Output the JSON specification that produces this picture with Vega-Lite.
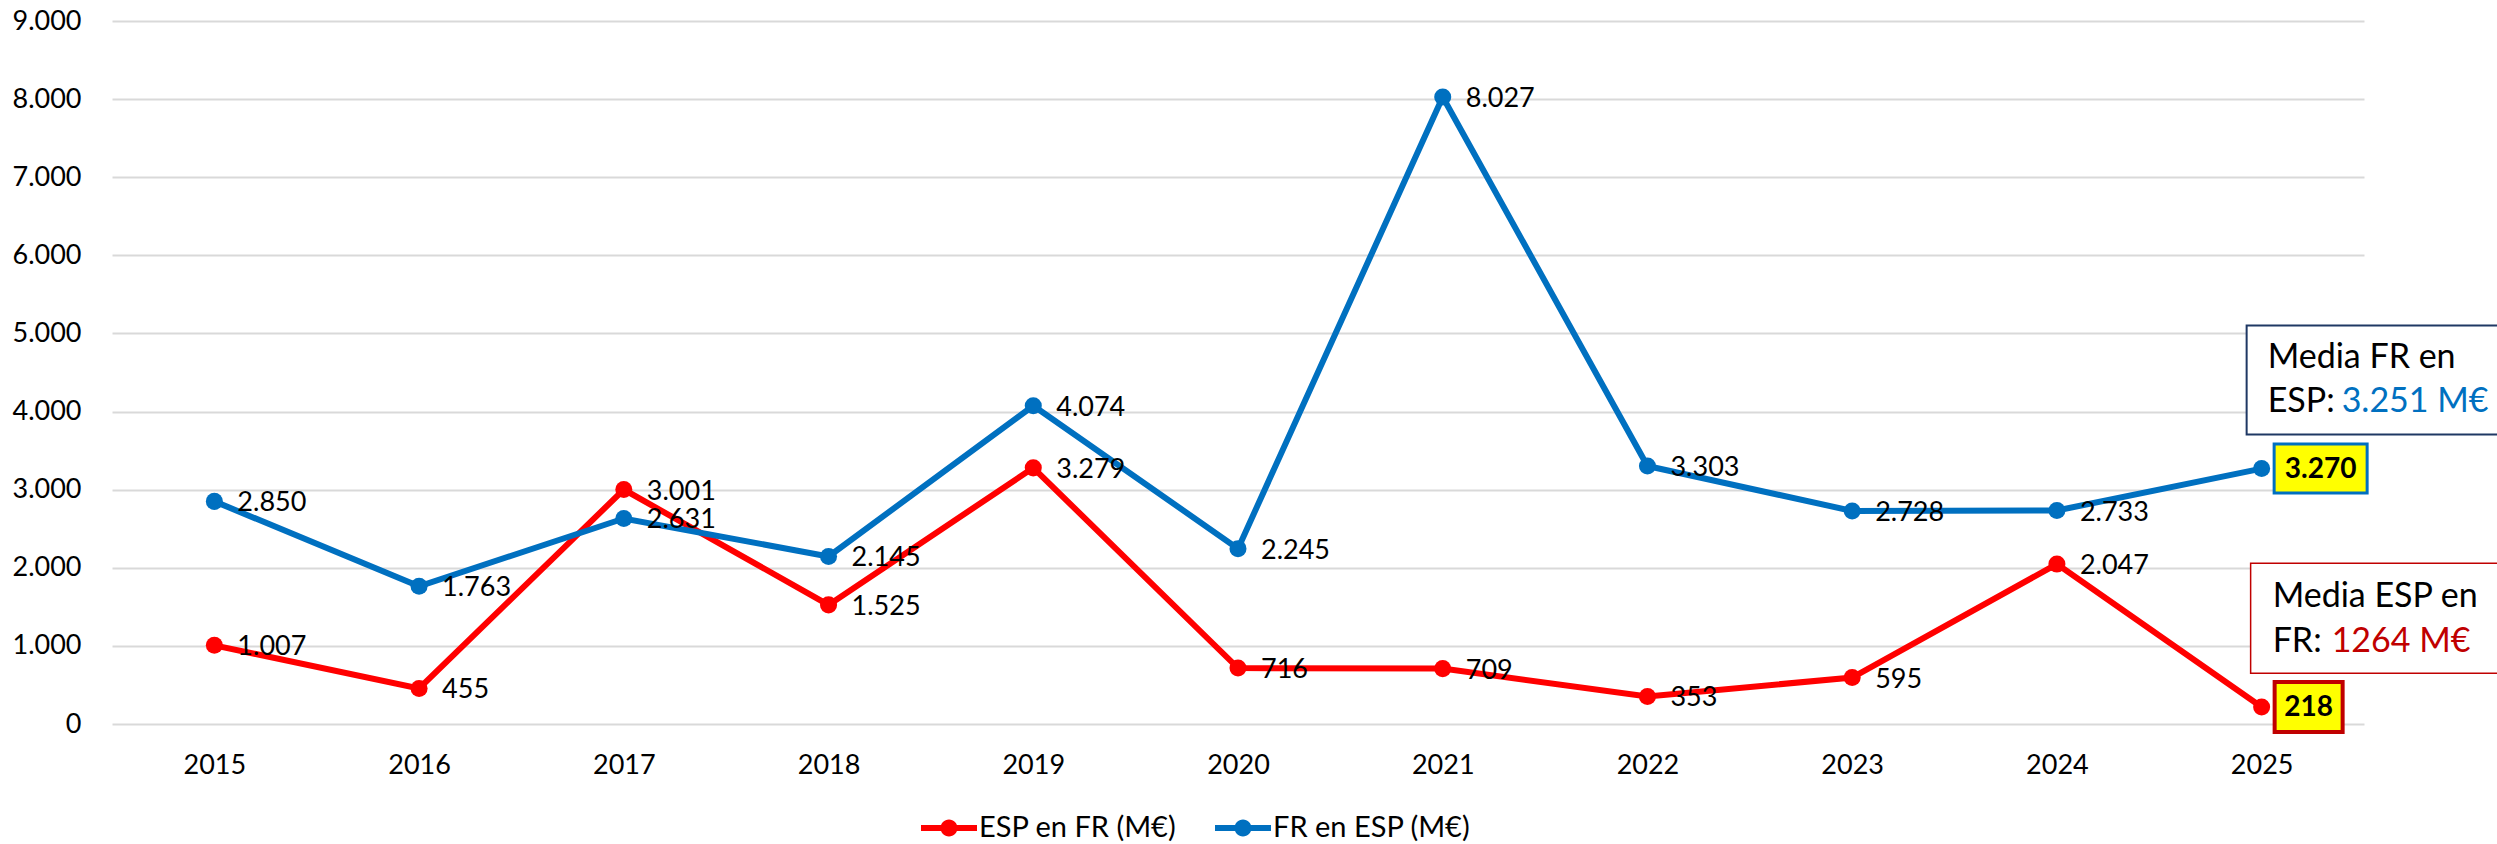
{
  "$schema": "https://vega.github.io/schema/vega-lite/v6.json",
  "width": 2252,
  "height": 703,
  "autosize": {"type": "none"},
  "padding": {"left": 112, "top": 21, "right": 133, "bottom": 120},
  "background": "white",
  "config": {
    "view": {"stroke": null},
    "font": "Lato",
    "locale": {"number": {"decimal": ",", "thousands": ".", "grouping": [3], "currency": ["", " €"]}},
    "axis": {"labelFont": "Lato", "labelFontSize": 27, "labelColor": "#000000", "ticks": false, "domain": false, "title": null}
  },
  "data": {
    "values": [
      {"year": "2015", "serie": "ESP en FR (M€)", "value": 1007},
      {"year": "2016", "serie": "ESP en FR (M€)", "value": 455},
      {"year": "2017", "serie": "ESP en FR (M€)", "value": 3001},
      {"year": "2018", "serie": "ESP en FR (M€)", "value": 1525},
      {"year": "2019", "serie": "ESP en FR (M€)", "value": 3279},
      {"year": "2020", "serie": "ESP en FR (M€)", "value": 716},
      {"year": "2021", "serie": "ESP en FR (M€)", "value": 709},
      {"year": "2022", "serie": "ESP en FR (M€)", "value": 353},
      {"year": "2023", "serie": "ESP en FR (M€)", "value": 595},
      {"year": "2024", "serie": "ESP en FR (M€)", "value": 2047},
      {"year": "2025", "serie": "ESP en FR (M€)", "value": 218},
      {"year": "2015", "serie": "FR en ESP (M€)", "value": 2850},
      {"year": "2016", "serie": "FR en ESP (M€)", "value": 1763},
      {"year": "2017", "serie": "FR en ESP (M€)", "value": 2631},
      {"year": "2018", "serie": "FR en ESP (M€)", "value": 2145},
      {"year": "2019", "serie": "FR en ESP (M€)", "value": 4074},
      {"year": "2020", "serie": "FR en ESP (M€)", "value": 2245},
      {"year": "2021", "serie": "FR en ESP (M€)", "value": 8027},
      {"year": "2022", "serie": "FR en ESP (M€)", "value": 3303},
      {"year": "2023", "serie": "FR en ESP (M€)", "value": 2728},
      {"year": "2024", "serie": "FR en ESP (M€)", "value": 2733},
      {"year": "2025", "serie": "FR en ESP (M€)", "value": 3270}
    ]
  },
  "encoding": {
    "x": {
      "field": "year", "type": "ordinal",
      "scale": {"type": "point", "padding": 0.5, "domain": ["2015","2016","2017","2018","2019","2020","2021","2022","2023","2024","2025"]},
      "axis": {"labelAngle": 0, "labelPadding": 28, "grid": false}
    },
    "y": {
      "field": "value", "type": "quantitative",
      "scale": {"domain": [0, 9000], "nice": false},
      "axis": {"values": [0,1000,2000,3000,4000,5000,6000,7000,8000,9000], "format": ",d", "labelPadding": 31, "grid": true, "gridColor": "#D9D9D9", "gridWidth": 2}
    }
  },
  "layer": [
    {
      "mark": {"type": "line", "strokeWidth": 6},
      "encoding": {
        "color": {
          "field": "serie", "type": "nominal",
          "scale": {"domain": ["ESP en FR (M€)", "FR en ESP (M€)"], "range": ["#FF0000", "#0070C0"]},
          "legend": {
            "title": null, "orient": "none", "direction": "horizontal", "legendX": 809, "legendY": 779,
            "symbolType": "M-1,-0.107H1V0.107H-1Z M0.304,0 A0.304,0.304 0 1,1 -0.304,0 A0.304,0.304 0 1,1 0.304,0 Z",
            "symbolSize": 3136, "symbolStrokeWidth": 0, "symbolOpacity": 1, "labelFont": "Lato", "labelFontSize": 29, "labelColor": "#000000",
            "labelOffset": 2, "columnPadding": 38, "labelLimit": 400
          }
        }
      }
    },
    {
      "mark": {"type": "point", "filled": true, "size": 290, "opacity": 1, "shape": "circle"},
      "encoding": {
        "color": {"field": "serie", "type": "nominal"}
      }
    },
    {
      "transform": [{"filter": "datum.year != '2025'"}],
      "mark": {"type": "text", "align": "left", "baseline": "middle", "dx": 23, "dy": 2, "fontSize": 27, "font": "Lato", "fill": "#000000"},
      "encoding": {"text": {"field": "value", "type": "quantitative", "format": ",d"}}
    },
    {
      "transform": [{"filter": "datum.year == '2025' && datum.serie == 'FR en ESP (M€)'"}],
      "mark": {"type": "point", "shape": "M-1,-0.527H1V0.527H-1Z", "size": 8649, "filled": true, "fill": "#FFFF00", "stroke": "#0070C0", "strokeWidth": 3, "opacity": 1, "xOffset": 59}
    },
    {
      "transform": [{"filter": "datum.year == '2025' && datum.serie == 'FR en ESP (M€)'"}],
      "mark": {"type": "text", "align": "center", "baseline": "middle", "dx": 59, "dy": 1, "fontSize": 28, "fontWeight": "bold", "font": "Lato", "fill": "#000000"},
      "encoding": {"text": {"field": "value", "type": "quantitative", "format": ",d"}}
    },
    {
      "transform": [{"filter": "datum.year == '2025' && datum.serie == 'ESP en FR (M€)'"}],
      "mark": {"type": "point", "shape": "M-1,-0.735H1V0.735H-1Z", "size": 4624, "filled": true, "fill": "#FFFF00", "stroke": "#C00000", "strokeWidth": 4, "opacity": 1, "xOffset": 47}
    },
    {
      "transform": [{"filter": "datum.year == '2025' && datum.serie == 'ESP en FR (M€)'"}],
      "mark": {"type": "text", "align": "center", "baseline": "middle", "dx": 47, "dy": 1, "fontSize": 28, "fontWeight": "bold", "font": "Lato", "fill": "#000000"},
      "encoding": {"text": {"field": "value", "type": "quantitative", "format": ",d"}}
    },
    {
      "data": {"values": [{"year": "2025", "value": 3251, "l1": "Media FR en", "l2": "ESP:", "l3": "3.251 M€"}]},
      "layer": [
        {"mark": {"type": "point", "shape": "M-1,-0.3633H1V0.3633H-1Z", "size": 90000, "filled": true, "fill": "#FFFFFF", "stroke": "#1F3864", "strokeWidth": 2, "opacity": 1, "xOffset": 135, "yOffset": -90}},
        {"mark": {"type": "text", "align": "left", "baseline": "middle", "dx": 6, "dy": -112, "fontSize": 34, "font": "Lato", "fill": "#000000"}, "encoding": {"text": {"field": "l1"}}},
        {"mark": {"type": "text", "align": "left", "baseline": "middle", "dx": 6, "dy": -68, "fontSize": 34, "font": "Lato", "fill": "#000000"}, "encoding": {"text": {"field": "l2"}}},
        {"mark": {"type": "text", "align": "left", "baseline": "middle", "dx": 80, "dy": -68, "fontSize": 34, "font": "Lato", "fill": "#0070C0"}, "encoding": {"text": {"field": "l3"}}}
      ]
    },
    {
      "data": {"values": [{"year": "2025", "value": 1264, "l1": "Media ESP en", "l2": "FR:", "l3": "1264 M€"}]},
      "layer": [
        {"mark": {"type": "point", "shape": "M-1,-0.3667H1V0.3667H-1Z", "size": 90000, "filled": true, "fill": "#FFFFFF", "stroke": "#C00000", "strokeWidth": 1.5, "opacity": 1, "xOffset": 139, "yOffset": -7}},
        {"mark": {"type": "text", "align": "left", "baseline": "middle", "dx": 11, "dy": -28, "fontSize": 34, "font": "Lato", "fill": "#000000"}, "encoding": {"text": {"field": "l1"}}},
        {"mark": {"type": "text", "align": "left", "baseline": "middle", "dx": 11, "dy": 17, "fontSize": 34, "font": "Lato", "fill": "#000000"}, "encoding": {"text": {"field": "l2"}}},
        {"mark": {"type": "text", "align": "left", "baseline": "middle", "dx": 70, "dy": 17, "fontSize": 34, "font": "Lato", "fill": "#C00000"}, "encoding": {"text": {"field": "l3"}}}
      ]
    }
  ]
}
